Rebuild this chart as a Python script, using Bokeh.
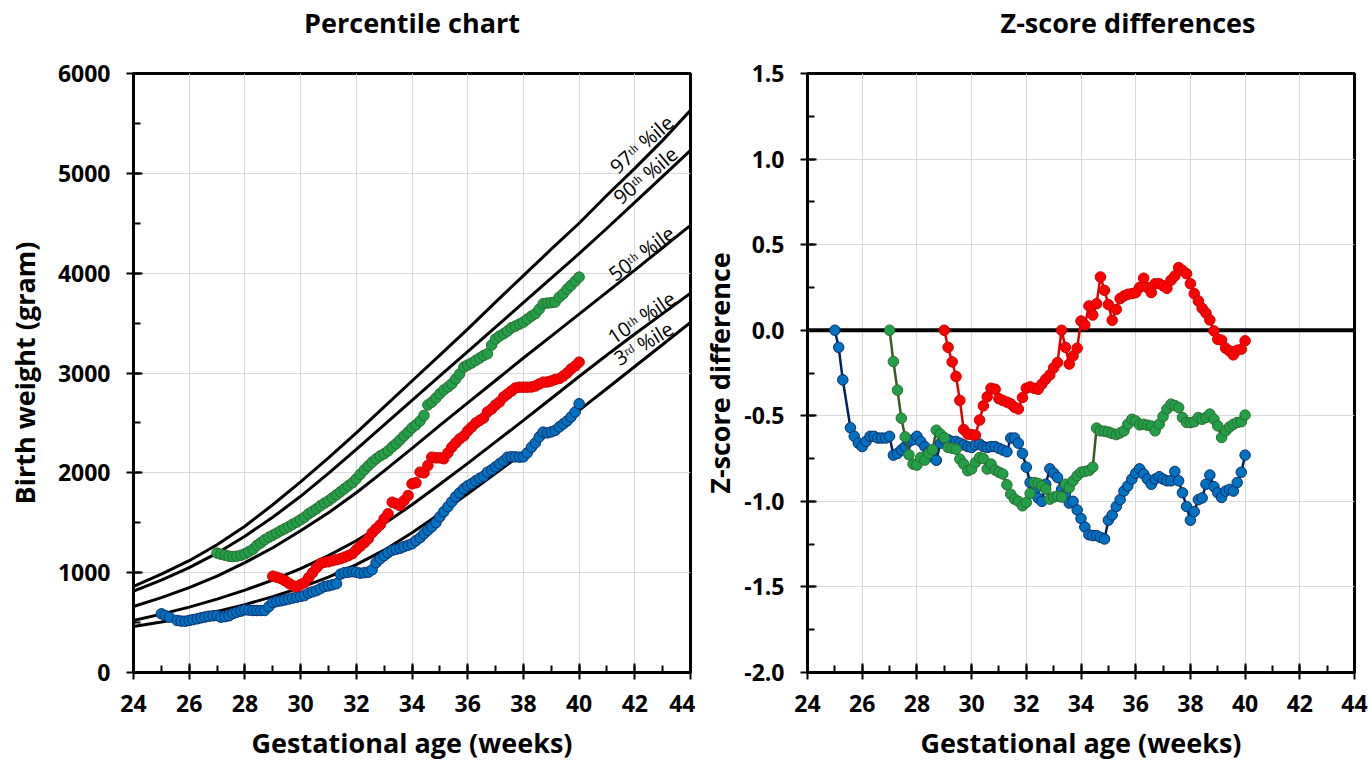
from bokeh.plotting import figure
from bokeh.layouts import row
from bokeh.models import SingleIntervalTicker, NumeralTickFormatter, Span, Title
from bokeh.core.properties import value
from bokeh.embed import file_html
from bokeh.resources import INLINE

FONT = "Open Sans"

# ---------------- reference percentile curves (grams) ----------------
weeks = [24, 25, 26, 27, 28, 29, 30, 31, 32, 33, 34, 35, 36, 37, 38, 39, 40, 41, 42, 43, 44]
p97 = [862, 985, 1120, 1280, 1465, 1680, 1910, 2150, 2400, 2660, 2920, 3180, 3440, 3710, 3975, 4240, 4500, 4780, 5050, 5330, 5631]
p90 = [815, 925, 1050, 1195, 1365, 1555, 1765, 1995, 2235, 2480, 2725, 2970, 3215, 3460, 3705, 3950, 4195, 4450, 4710, 4970, 5230]
p50 = [661, 750, 850, 965, 1100, 1250, 1420, 1600, 1800, 2020, 2245, 2475, 2700, 2925, 3150, 3370, 3590, 3810, 4030, 4255, 4479]
p10 = [521, 585, 655, 735, 825, 925, 1040, 1170, 1320, 1490, 1680, 1885, 2095, 2310, 2525, 2745, 2965, 3180, 3390, 3595, 3798]
p3 = [461, 505, 555, 612, 680, 760, 850, 955, 1080, 1225, 1400, 1590, 1790, 1995, 2200, 2410, 2625, 2845, 3065, 3285, 3507]
pct_labels = ["97ᵗʰ %ile", "90ᵗʰ %ile", "50ᵗʰ %ile", "10ᵗʰ %ile", "3ʳᵈ %ile"]

# ---------------- infant series ----------------
ga_blue = [25.00, 25.14, 25.29, 25.57, 25.71, 25.86,
           26.00, 26.14, 26.29, 26.43, 26.57, 26.71, 26.86,
           27.00, 27.14, 27.29, 27.43, 27.57, 27.71, 27.86,
           28.00, 28.14, 28.29, 28.43, 28.57, 28.71, 28.86,
           29.00, 29.14, 29.29, 29.43, 29.57, 29.71, 29.86,
           30.00, 30.14, 30.29, 30.43, 30.57, 30.71, 30.86,
           31.00, 31.14, 31.29, 31.43, 31.57, 31.71, 31.86,
           32.00, 32.14, 32.29, 32.43, 32.57, 32.71, 32.86,
           33.00, 33.14, 33.29, 33.43, 33.57, 33.71, 33.86,
           34.00, 34.14, 34.29, 34.43, 34.57, 34.71, 34.86,
           35.00, 35.14, 35.29, 35.43, 35.57, 35.71, 35.86,
           36.00, 36.14, 36.29, 36.43, 36.57, 36.71, 36.86,
           37.00, 37.14, 37.29, 37.43, 37.57, 37.71, 37.86,
           38.00, 38.14, 38.29, 38.43, 38.57, 38.71, 38.86,
           39.00, 39.14, 39.29, 39.43, 39.57, 39.71, 39.86,
           40.00]
wt_blue = [588, 570, 554, 521, 515, 514,
           522, 530, 538, 548, 556, 564, 568,
           571, 554, 560, 568, 590, 604, 615,
           628, 625, 621, 621, 621, 621, 660,
           700, 710, 718, 727, 735, 745, 754,
           762, 771, 795, 808, 820, 840, 861,
           868, 878, 890, 985, 1000, 1005, 1010,
           1005, 995, 1000, 1005, 1030, 1100, 1140,
           1170, 1200, 1225, 1235, 1245, 1260, 1275,
           1289, 1320, 1350, 1390, 1425, 1460, 1500,
           1560, 1610, 1660, 1710, 1760, 1800, 1840,
           1870, 1891, 1920, 1945, 1965, 2007, 2030,
           2060, 2090, 2120, 2157, 2160, 2160, 2157,
           2160, 2200, 2257, 2300, 2360, 2408, 2400,
           2410, 2425, 2460, 2490, 2520, 2560, 2610,
           2692]
z_blue = [0.00, -0.10, -0.29, -0.57, -0.62, -0.66,
          -0.68, -0.65, -0.62, -0.62, -0.63, -0.63, -0.63,
          -0.62, -0.73, -0.72, -0.70, -0.68, -0.65, -0.64,
          -0.62, -0.65, -0.68, -0.71, -0.74, -0.76, -0.66,
          -0.64, -0.64, -0.65, -0.65, -0.66, -0.67, -0.68,
          -0.685, -0.67, -0.665, -0.68, -0.685, -0.68, -0.68,
          -0.69, -0.70, -0.71, -0.63, -0.63, -0.66, -0.72,
          -0.80, -0.89, -0.94, -0.98, -1.00, -0.90, -0.81,
          -0.835, -0.86, -0.93, -0.96, -1.01, -1.00, -1.05,
          -1.10, -1.15, -1.195, -1.20, -1.20, -1.21, -1.22,
          -1.11, -1.08, -1.03, -0.99, -0.94, -0.91, -0.87,
          -0.836, -0.81, -0.84, -0.87, -0.90, -0.87, -0.856,
          -0.87, -0.88, -0.88, -0.825, -0.88, -0.95, -1.03,
          -1.11, -1.06, -0.99, -0.98, -0.90, -0.846, -0.914,
          -0.95, -0.977, -0.94, -0.93, -0.94, -0.89, -0.83,
          -0.73]

ga_red = [29.00, 29.14, 29.29, 29.43, 29.57, 29.71, 29.86,
          30.00, 30.14, 30.29, 30.43, 30.57, 30.71, 30.86,
          31.00, 31.14, 31.29, 31.43, 31.57, 31.71, 31.86,
          32.00, 32.14, 32.29, 32.43, 32.57, 32.71, 32.86,
          33.00, 33.14, 33.29, 33.43, 33.57, 33.71, 33.86,
          34.00, 34.14, 34.29, 34.43, 34.57, 34.71, 34.86,
          35.00, 35.14, 35.29, 35.43, 35.57, 35.71, 35.86,
          36.00, 36.14, 36.29, 36.43, 36.57, 36.71, 36.86,
          37.00, 37.14, 37.29, 37.43, 37.57, 37.71, 37.86,
          38.00, 38.14, 38.29, 38.43, 38.57, 38.71, 38.86,
          39.00, 39.14, 39.29, 39.43, 39.57, 39.71, 39.86,
          40.00]
wt_red = [965, 955, 940, 922, 895, 872, 858,
          880, 900, 950, 1000, 1050, 1090, 1105,
          1110, 1120, 1130, 1140, 1155, 1170, 1190,
          1230, 1265, 1300, 1340, 1400, 1440, 1480,
          1540, 1590, 1706, 1690, 1673, 1720, 1773,
          1890, 1900, 2007, 2000, 2074, 2157, 2150,
          2150, 2141, 2200, 2257, 2300, 2340, 2370,
          2420, 2458, 2500, 2525, 2550, 2610, 2640,
          2680, 2710, 2760, 2790, 2820, 2850, 2858,
          2858, 2858, 2860, 2870, 2890, 2908, 2910,
          2920, 2935, 2945, 2970, 3000, 3040, 3070,
          3109]
z_red = [0.00, -0.10, -0.185, -0.27, -0.41, -0.58, -0.607,
         -0.61, -0.613, -0.525, -0.442, -0.389, -0.339, -0.345,
         -0.40, -0.41, -0.42, -0.43, -0.45, -0.46, -0.393,
         -0.339, -0.331, -0.34, -0.345, -0.315, -0.286, -0.261,
         -0.22, -0.189, 0.00, -0.10, -0.198, -0.15, -0.105,
         0.054, 0.031, 0.142, 0.089, 0.155, 0.311, 0.233,
         0.15, 0.058, 0.122, 0.185, 0.20, 0.21, 0.214,
         0.22, 0.25, 0.304, 0.249, 0.22, 0.272, 0.272,
         0.26, 0.245, 0.292, 0.317, 0.366, 0.35, 0.33,
         0.272, 0.214, 0.171, 0.128, 0.10, 0.06, -0.004,
         -0.053, -0.058, -0.105, -0.121, -0.144, -0.117, -0.111,
         -0.062]

ga_green = [27.00, 27.14, 27.29, 27.43, 27.57, 27.71, 27.86,
            28.00, 28.14, 28.29, 28.43, 28.57, 28.71, 28.86,
            29.00, 29.14, 29.29, 29.43, 29.57, 29.71, 29.86,
            30.00, 30.14, 30.29, 30.43, 30.57, 30.71, 30.86,
            31.00, 31.14, 31.29, 31.43, 31.57, 31.71, 31.86,
            32.00, 32.14, 32.29, 32.43, 32.57, 32.71, 32.86,
            33.00, 33.14, 33.29, 33.43, 33.57, 33.71, 33.86,
            34.00, 34.14, 34.29, 34.43, 34.57, 34.71, 34.86,
            35.00, 35.14, 35.29, 35.43, 35.57, 35.71, 35.86,
            36.00, 36.14, 36.29, 36.43, 36.57, 36.71, 36.86,
            37.00, 37.14, 37.29, 37.43, 37.57, 37.71, 37.86,
            38.00, 38.14, 38.29, 38.43, 38.57, 38.71, 38.86,
            39.00, 39.14, 39.29, 39.43, 39.57, 39.71, 39.86,
            40.00]
wt_green = [1196, 1185, 1175, 1165, 1162, 1165, 1175,
            1189, 1210, 1235, 1273, 1300, 1330, 1355,
            1375, 1396, 1420, 1440, 1460, 1485, 1506,
            1530, 1556, 1590, 1615, 1640, 1670, 1697,
            1720, 1750, 1780, 1810, 1840, 1870, 1900,
            1940, 1985, 2030, 2070, 2107, 2140, 2170,
            2191, 2220, 2260, 2291, 2330, 2370, 2408,
            2450, 2480, 2520, 2575, 2680, 2708, 2750,
            2792, 2830, 2860, 2892, 2940, 2990, 3059,
            3080, 3100, 3126, 3150, 3175, 3193, 3280,
            3340, 3370, 3393, 3420, 3454, 3470, 3490,
            3510, 3540, 3570, 3594, 3640, 3694, 3700,
            3705, 3710, 3760, 3794, 3840, 3878, 3920,
            3961]
z_green = [0.00, -0.183, -0.35, -0.514, -0.623, -0.728, -0.782,
           -0.788, -0.744, -0.759, -0.72, -0.699, -0.584, -0.607,
           -0.627, -0.685, -0.69, -0.695, -0.753, -0.782, -0.821,
           -0.811, -0.773, -0.744, -0.75, -0.811, -0.782, -0.817,
           -0.83, -0.84, -0.903, -0.958, -0.987, -1.00, -1.026,
           -1.006, -0.954, -0.89, -0.895, -0.91, -0.928, -0.987,
           -0.975, -0.97, -0.975, -0.90, -0.92, -0.88, -0.85,
           -0.83, -0.825, -0.82, -0.80, -0.572, -0.588, -0.59,
           -0.595, -0.603, -0.61, -0.60, -0.588, -0.55, -0.52,
           -0.53, -0.553, -0.55, -0.555, -0.56, -0.588, -0.549,
           -0.504, -0.461, -0.432, -0.44, -0.452, -0.51, -0.539,
           -0.54, -0.535, -0.51, -0.52, -0.51, -0.49, -0.52,
           -0.559, -0.627, -0.588, -0.565, -0.55, -0.539, -0.535,
           -0.496]

for a, b, c in [(ga_blue, wt_blue, z_blue), (ga_red, wt_red, z_red), (ga_green, wt_green, z_green)]:
    assert len(a) == len(b) == len(c), (len(a), len(b), len(c))

# ---------------- styles ----------------
BLUE_FILL, BLUE_LINE = "#0070C0", "#0B2F6B"
RED_FILL, RED_LINE = "#FF0000", "#D00000"
GREEN_FILL, GREEN_LINE = "#21A047", "#2E6B30"
BLUE_PATH, RED_PATH, GREEN_PATH = "#002060", "#E00000", "#3A5A22"
DOT = 10.5


def style(p, ylab_standoff):
    for ax in (p.xaxis[0], p.yaxis[0]):
        ax.axis_line_width = 3
        ax.axis_line_color = "black"
        ax.major_tick_line_width = 2
        ax.minor_tick_line_width = 2
        ax.major_tick_line_color = "black"
        ax.minor_tick_line_color = "black"
        ax.major_tick_in = 9
        ax.major_tick_out = 7
        ax.minor_tick_in = 7
        ax.minor_tick_out = 0
        ax.major_label_text_font = FONT
        ax.major_label_text_font_style = "bold"
        ax.major_label_text_font_size = "23px"
        ax.major_label_text_color = "black"
        ax.axis_label_text_font = FONT
        ax.axis_label_text_font_style = "bold"
        ax.axis_label_text_font_size = "27px"
        ax.axis_label_text_color = "black"
    p.xaxis.major_label_standoff = 15
    p.yaxis.major_label_standoff = 16
    p.xaxis.axis_label_standoff = 9
    p.yaxis.axis_label_standoff = ylab_standoff
    p.xaxis.ticker = SingleIntervalTicker(interval=2, num_minor_ticks=2)
    p.grid.grid_line_color = "#d9d9d9"
    p.grid.grid_line_width = 1
    p.outline_line_color = "black"
    p.outline_line_width = 3
    p.outline_line_alpha = 1
    p.background_fill_color = "white"
    p.border_fill_color = "white"


def add_title(p, text, align, offset):
    # spacer nearest the frame, then the real title above it
    p.add_layout(Title(text=" ", text_font_size="10px", standoff=20), "above")
    p.add_layout(Title(text=text, text_font=FONT, text_font_size="27px",
                       text_font_style="bold", text_color="black",
                       align=align, offset=offset, standoff=0,
                       vertical_align="bottom"), "above")


# ---------------- left: percentile chart ----------------
left = figure(x_range=(24, 44), y_range=(0, 6000),
              frame_width=557, frame_height=599,
              min_border_left=133, min_border_right=5, min_border_top=73, min_border_bottom=91,
              output_backend="svg", toolbar_location=None)
style(left, 12)
left.yaxis.ticker = SingleIntervalTicker(interval=1000, num_minor_ticks=2)
left.xaxis.axis_label = "Gestational age (weeks)"
left.yaxis.axis_label = "Birth weight (gram)"
add_title(left, "Percentile chart", "center", 0)

for curve in (p97, p90, p50, p10, p3):
    left.line(weeks, curve, line_color="black", line_width=3)

left.text(x=[42.24, 42.38, 42.24, 42.24, 42.31], y=[5291, 4980, 4198, 3557, 3297],
          text=pct_labels, angle=[41, 40, 37, 34, 31], angle_units="deg",
          text_font=value(FONT), text_font_size="20px", text_color="black",
          text_align="center", text_baseline="middle")

left.scatter(ga_blue, wt_blue, size=DOT, fill_color=BLUE_FILL, line_color=BLUE_LINE, line_width=1)
left.scatter(ga_red, wt_red, size=DOT, fill_color=RED_FILL, line_color=RED_LINE, line_width=1)
left.scatter(ga_green, wt_green, size=DOT, fill_color=GREEN_FILL, line_color=GREEN_LINE, line_width=1)

# ---------------- right: z-score differences ----------------
right = figure(x_range=(24, 44), y_range=(-2.0, 1.5),
               frame_width=547, frame_height=599,
               min_border_left=112, min_border_right=15, min_border_top=73, min_border_bottom=91,
               output_backend="svg", toolbar_location=None)
style(right, 3)
right.yaxis.ticker = SingleIntervalTicker(interval=0.5, num_minor_ticks=2)
right.yaxis.formatter = NumeralTickFormatter(format="0.0")
right.xaxis.axis_label = "Gestational age (weeks)"
right.yaxis.axis_label = "Z-score difference"
add_title(right, "Z-score differences", "left", 193)

zero = Span(location=0, dimension="width", line_color="black", line_width=4, level="underlay")
right.add_layout(zero)

right.line(ga_blue, z_blue, line_color=BLUE_PATH, line_width=2.5)
right.scatter(ga_blue, z_blue, size=DOT, fill_color=BLUE_FILL, line_color=BLUE_LINE, line_width=1)
right.line(ga_green, z_green, line_color=GREEN_PATH, line_width=2.5)
right.scatter(ga_green, z_green, size=DOT, fill_color=GREEN_FILL, line_color=GREEN_LINE, line_width=1)
right.line(ga_red, z_red, line_color=RED_PATH, line_width=2.5)
right.scatter(ga_red, z_red, size=DOT, fill_color=RED_FILL, line_color=RED_LINE, line_width=1)

layout = row(left, right)
open("out.html", "w").write(file_html(layout, INLINE, "Percentile chart"))
